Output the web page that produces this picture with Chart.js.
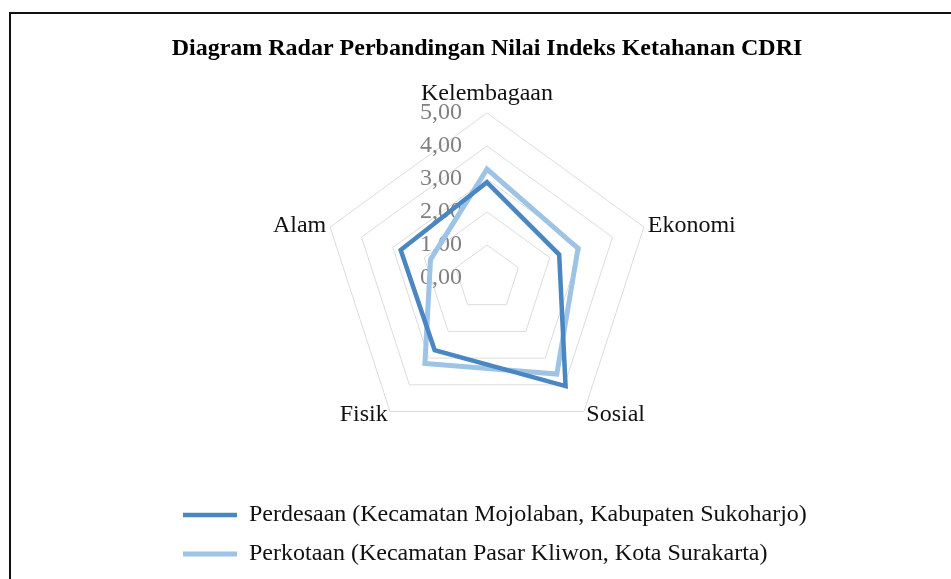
<!DOCTYPE html>
<html>
<head>
<meta charset="utf-8">
<script src="https://cdn.jsdelivr.net/npm/chart.js@4"></script>
<style>
  html, body { margin: 0; padding: 0; background: #fff; }
  #wrap { position: relative; width: 951px; height: 579px; overflow: hidden; }
  #frame { position: absolute; left: 9px; top: 12px; right: 0; bottom: 0;
           border-left: 2px solid #111; border-top: 2px solid #111; }
  #grafico { position: absolute; left: 0; top: 0; }
</style>
</head>
<body>
<div id="wrap">
  <div id="frame"></div>
  <canvas id="grafico" width="951" height="579"></canvas>
</div>
<script>
// Kategori (sumbu radar)
const kategori = ['Kelembagaan', 'Ekonomi', 'Sosial', 'Fisik', 'Alam'];

// Nilai indeks per wilayah
const perdesaan = [2.9, 2.3, 4.05, 2.7, 2.75];
const perkotaan = [3.3, 2.9, 3.6, 3.2, 1.8];

const namaPerdesaan = 'Perdesaan (Kecamatan Mojolaban, Kabupaten Sukoharjo)';
const namaPerkotaan = 'Perkotaan (Kecamatan Pasar Kliwon, Kota Surakarta)';

// Label skala
const nilaiTick = [0, 1, 2, 3, 4, 5];
const labelTick = ['0,00', '1,00', '2,00', '3,00', '4,00', '5,00'];

const warnaGelap = '#4a86c1';
const warnaTerang = '#9dc3e6';
const fontSerif = '"Liberation Serif", "Times New Roman", serif';

// label skala di sisi kiri sumbu dan nama kategori ditengah-tengah vertikal, seperti di Excel
const labelRadar = {
  id: 'labelRadar',
  beforeDatasetsDraw(chart) {
    const r = chart.scales.r;
    const ctx = chart.ctx;
    ctx.save();
    ctx.textBaseline = 'middle';

    ctx.font = '24px ' + fontSerif;
    ctx.fillStyle = '#808080';
    ctx.textAlign = 'right';
    nilaiTick.forEach((v, i) => {
      const y = r.yCenter - r.getDistanceFromCenterForValue(v);
      ctx.fillText(labelTick[i], r.xCenter - 25, y);
    });

    ctx.fillStyle = '#111';
    kategori.forEach((nama, i) => {
      const atas = Math.abs(r.getPointPosition(i, 10).x - r.xCenter) < 1;
      const p = r.getPointPosition(i, r.drawingArea + (atas ? 19 : 4));
      ctx.textAlign = atas ? 'center' : (p.x > r.xCenter ? 'left' : 'right');
      ctx.fillText(nama, p.x, p.y);
    });
    ctx.restore();
  }
};

new Chart(document.getElementById('grafico'), {
  type: 'radar',
  data: {
    labels: kategori,
    datasets: [{
      label: namaPerdesaan,
      data: perdesaan,
      borderColor: warnaGelap,
      backgroundColor: warnaGelap,
      borderWidth: 4.5,
      fill: false,
      pointRadius: 0,
      pointHoverRadius: 0
    }, {
      label: namaPerkotaan,
      data: perkotaan,
      borderColor: warnaTerang,
      backgroundColor: warnaTerang,
      borderWidth: 5,
      fill: false,
      pointRadius: 0,
      pointHoverRadius: 0
    }]
  },
  options: {
    responsive: false,
    animation: false,
    layout: { padding: { left: 168, right: 145, top: 0, bottom: 3 } },
    elements: { line: { tension: 0, borderJoinStyle: 'miter' } },
    scales: {
      r: {
        min: 0,
        max: 5,
        ticks: { stepSize: 1, display: false },
        grid: { color: '#dcdcdc', lineWidth: 1 },
        angleLines: { display: false },
        pointLabels: { display: false }
      }
    },
    plugins: {
      title: {
        display: true,
        text: 'Diagram Radar Perbandingan Nilai Indeks Ketahanan CDRI',
        font: { family: fontSerif, size: 24, weight: 'bold' },
        color: '#000',
        padding: { top: 34, bottom: 50.2 }
      },
      legend: {
        position: 'bottom',
        align: 'start',
        // judul kosong hanya sebagai jarak di atas legenda
        title: { display: true, text: '', font: { size: 10 }, padding: { top: 0, bottom: 33 } },
        labels: {
          font: { family: fontSerif, size: 24 },
          color: '#111',
          usePointStyle: true,
          pointStyle: 'line',
          pointStyleWidth: 54,
          padding: 15
        }
      },
      tooltip: { enabled: false }
    }
  },
  plugins: [labelRadar]
});
</script>
</body>
</html>
